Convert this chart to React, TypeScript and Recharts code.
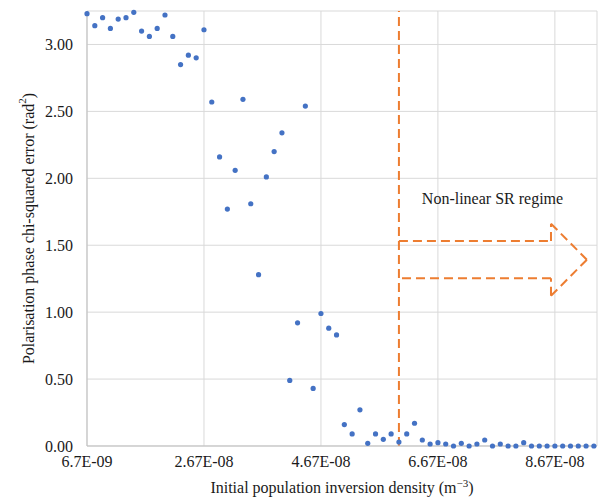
// Scatter: chi-squared error vs inversion density, with the non-linear regime marked
import {
  CartesianGrid,
  ReferenceDot,
  ReferenceLine,
  Scatter,
  ScatterChart,
  XAxis,
  YAxis,
} from "recharts";

// x is the sample index; samples are evenly spaced in density (6.7E-09 + k * 1.33E-09)
const errors = [
  3.23, 3.14, 3.2, 3.12, 3.19, 3.2, 3.24, 3.1, 3.06, 3.12,
  3.22, 3.06, 2.85, 2.92, 2.9, 3.11, 2.57, 2.16, 1.77, 2.06,
  2.59, 1.81, 1.28, 2.01, 2.2, 2.34, 0.49, 0.92, 2.54, 0.43,
  0.99, 0.88, 0.83, 0.16, 0.09, 0.27, 0.02, 0.09, 0.05, 0.09,
  0.03, 0.09, 0.17, 0.045, 0.015, 0.025, 0.015, 0.0, 0.02, 0.0,
  0.015, 0.045, 0.0, 0.015, 0.0, 0.0, 0.025, 0.0, 0.0, 0.0,
  0.0, 0.0, 0.0, 0.0, 0.0, 0.0,
];
const xTicks = [0, 15, 30, 45, 60];
const xTickLabels = ["6.7E-09", "2.67E-08", "4.67E-08", "6.67E-08", "8.67E-08"];
const yTicks = [0, 0.5, 1, 1.5, 2, 2.5, 3];

const regimeStart = 40;
// arrow outline (x, y) in data units
const arrowPts = [
  [40, 1.532],
  [59.5, 1.532],
  [59.5, 1.661],
  [64.1, 1.392],
  [59.5, 1.122],
  [59.5, 1.254],
  [40, 1.254],
];

const data = errors.map((v, i) => ({ x: i, y: v }));

const FONT = "'Liberation Serif', 'Times New Roman', serif";
const TICK = { fontSize: 16, fill: "#1a1a1a", fontFamily: FONT };
const ORANGE = "#ED7D31";
const DASH = "9 5";

export default function App() {
  return (
    <div style={{ position: "absolute", left: 0, top: 0, background: "#fff" }}>
      <ScatterChart width={599} height={499} margin={{ top: 11, right: 2, left: 0, bottom: 23 }}>
        <CartesianGrid stroke="#d9d9d9" strokeWidth={1} />
        <XAxis
          type="number"
          dataKey="x"
          domain={[0, 65.4]}
          ticks={xTicks}
          tickFormatter={(v: number) => xTickLabels[xTicks.indexOf(v)] ?? ""}
          tick={TICK}
          tickSize={0}
          tickMargin={10}
          height={30}
          axisLine={{ stroke: "#bfbfbf" }}
          label={{
            content: ({ viewBox }: any) => (
              <text
                x={viewBox.x + viewBox.width / 2}
                y={viewBox.y + 47}
                textAnchor="middle"
                fontSize={16}
                fontFamily={FONT}
                fill="#1a1a1a"
              >
                Initial population inversion density (m<tspan dy={-6} fontSize={11}>−3</tspan>
                <tspan dy={6}>)</tspan>
              </text>
            ),
          }}
        />
        <YAxis
          type="number"
          dataKey="y"
          domain={[0, 3.25]}
          ticks={yTicks}
          tickFormatter={(v: number) => v.toFixed(2)}
          tick={TICK}
          tickSize={0}
          tickMargin={14}
          width={87}
          axisLine={{ stroke: "#bfbfbf" }}
          label={{
            content: ({ viewBox }: any) => {
              const cx = 28;
              const cy = viewBox.y + viewBox.height / 2;
              return (
                <text
                  x={cx}
                  y={cy}
                  transform={`rotate(-90 ${cx} ${cy})`}
                  textAnchor="middle"
                  dominantBaseline="central"
                  fontSize={16}
                  fontFamily={FONT}
                  fill="#1a1a1a"
                >
                  Polarisation phase chi-squared error (rad<tspan dy={-6} fontSize={11}>2</tspan>
                  <tspan dy={6}>)</tspan>
                </text>
              );
            },
          }}
        />
        <ReferenceLine x={regimeStart} stroke={ORANGE} strokeWidth={2} strokeDasharray={DASH} />
        {arrowPts.slice(1).map((p, i) => (
          <ReferenceLine
            key={i}
            segment={[
              { x: arrowPts[i][0], y: arrowPts[i][1] },
              { x: p[0], y: p[1] },
            ]}
            stroke={ORANGE}
            strokeWidth={2}
            strokeDasharray={DASH}
            ifOverflow="visible"
          />
        ))}
        <ReferenceDot
          x={52}
          y={1.853}
          r={0}
          fill="none"
          stroke="none"
          label={{ value: "Non-linear SR regime", position: "center", fontSize: 16, fontFamily: FONT, fill: "#1a1a1a" }}
        />
        <Scatter
          data={data}
          isAnimationActive={false}
          shape={(p: any) => <circle cx={p.cx} cy={p.cy} r={2.6} fill="#4472C4" />}
        />
      </ScatterChart>
    </div>
  );
}
